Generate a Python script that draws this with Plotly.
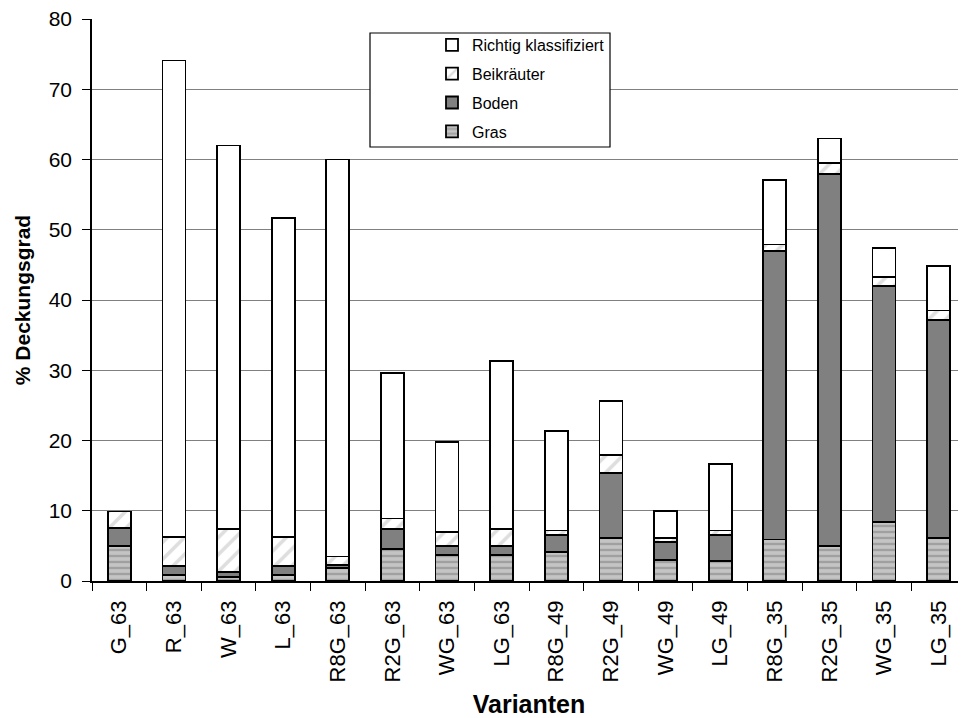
import plotly.graph_objects as go

categories = ["G_63", "R_63", "W_63", "L_63", "R8G_63", "R2G_63", "WG_63", "LG_63",
              "R8G_49", "R2G_49", "WG_49", "LG_49", "R8G_35", "R2G_35", "WG_35", "LG_35"]
gras = [5.0, 0.8, 0.6, 0.8, 1.9, 4.6, 3.7, 3.7, 4.1, 6.1, 3.0, 2.85, 5.9, 5.0, 8.45, 6.1]
boden = [2.5, 1.3, 0.7, 1.3, 0.4, 2.8, 1.3, 1.3, 2.45, 9.3, 2.6, 3.7, 41.1, 52.9, 33.55, 31.05]
beikraeuter = [2.4, 4.2, 6.1, 4.2, 1.2, 1.5, 2.0, 2.4, 0.65, 2.5, 0.5, 0.65, 0.9, 1.6, 1.3, 1.35]
richtig = [0.0, 67.8, 54.6, 45.4, 56.5, 20.7, 12.8, 23.9, 14.1, 7.7, 3.9, 9.4, 9.2, 3.5, 4.15, 6.3]

FONT = "Liberation Sans, Arial, sans-serif"
OFF = 8  # default page body margin
W, H = 966 - OFF, 718 - OFF
# plot area in page pixels: x 92..966, y 19..581
L, R, T, B = 92 - OFF, 0, 19 - OFF, H - (581 - OFF)

line = dict(color="black", width=1.8)
fig = go.Figure()
fig.add_trace(go.Bar(x=categories, y=gras, name="Gras", legendgroup="a", legendrank=4,
                     marker=dict(color="#b0b0b0", line=line,
                                 pattern=dict(shape="-", fgcolor="#7c7c7c", bgcolor="#c4c4c4",
                                              size=6, solidity=0.4))))
fig.add_trace(go.Bar(x=categories, y=boden, name="Boden", legendgroup="b", legendrank=3,
                     marker=dict(color="#808080", line=line)))
fig.add_trace(go.Bar(x=categories, y=beikraeuter, name="Beikräuter", legendgroup="c", legendrank=2,
                     marker=dict(color="white", line=line,
                                 pattern=dict(shape="/", fgcolor="#bdbdbd", bgcolor="white",
                                              size=12, solidity=0.3))))
fig.add_trace(go.Bar(x=categories, y=richtig, name="Richtig klassifiziert", legendgroup="d",
                     legendrank=1, marker=dict(color="white", line=line)))

pw = W - L - R
ph = H - T - B
def px(x):  # page x -> paper
    return (x - 92) / pw
def py(y):  # page y -> paper
    return (581 - y) / ph

# legend frame
fig.add_shape(type="rect", xref="paper", yref="paper",
              x0=px(370), x1=px(610), y0=py(147), y1=py(33),
              line=dict(color="black", width=1.2), fillcolor="white", layer="above")

fig.update_layout(
    width=W, height=H,
    margin=dict(l=L, r=R, t=T, b=B, autoexpand=False),
    paper_bgcolor="white", plot_bgcolor="white",
    barmode="stack", bargap=0.58,
    font=dict(family=FONT, size=18, color="black"),
    showlegend=True,
    legend=dict(x=px(432), y=py(28), xanchor="left", yanchor="top",
                traceorder="grouped", tracegroupgap=5,
                bgcolor="rgba(0,0,0,0)", borderwidth=0,
                font=dict(family=FONT, size=16, color="black"),
                itemwidth=30),
    xaxis=dict(showline=True, linecolor="black", linewidth=1.5, automargin=False,
               ticks="outside", tickson="boundaries", ticklen=8, tickcolor="black",
               tickangle=-90, tickfont=dict(size=22), ticklabelstandoff=9,
               ticklabeloverflow="allow",
               title=dict(text="<b>Varianten</b>", font=dict(size=25), standoff=23),
               showgrid=False, fixedrange=True),
    yaxis=dict(range=[0, 80], dtick=10, showline=True, linecolor="black", linewidth=1.5,
               automargin=False, ticklabeloverflow="allow",
               ticks="outside", ticklen=8, tickcolor="black", ticklabelstandoff=6,
               showgrid=True, gridcolor="#808080", gridwidth=1,
               zeroline=False, tickfont=dict(size=21),
               title=dict(text="<b>% Deckungsgrad</b>", font=dict(size=21), standoff=12)),
)

fig.write_html("out.html")
